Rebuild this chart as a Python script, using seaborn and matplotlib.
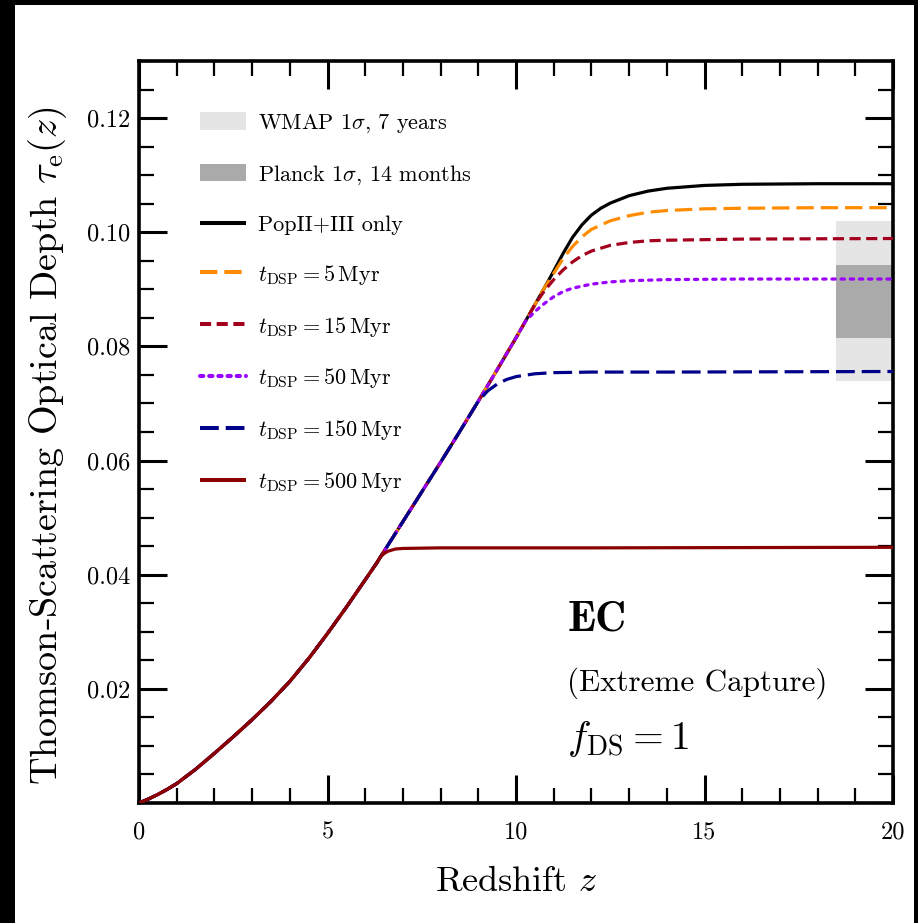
import numpy as np
import pandas as pd
import seaborn as sns
import matplotlib
matplotlib.use("Agg")
import matplotlib.pyplot as plt
from matplotlib.patches import Patch, Rectangle
from matplotlib.lines import Line2D

# ---------------- data ----------------
# shared low-z part of every curve
z_common = [0.0, 0.25, 0.5, 0.75, 1.0, 1.5, 2.0, 2.5, 3.0, 3.5, 4.0, 4.5, 5.0, 5.5, 6.0, 6.3]
tau_common = [0.0, 0.0007, 0.0015, 0.0024, 0.0034, 0.0059, 0.0087, 0.0116, 0.0146,
              0.0178, 0.0213, 0.0253, 0.0297, 0.0343, 0.0391, 0.0420]
# shared part 6.5 - 9 (all but 500 Myr)
z_mid1 = [6.5, 7.0, 7.5, 8.0, 8.5, 9.0]
tau_mid1 = [0.0441, 0.0493, 0.0545, 0.0597, 0.0650, 0.0704]
# shared part 9.5 - 10.25 (PopII+III, 5, 15, 50 Myr)
z_mid2 = [9.5, 10.0, 10.25]
tau_mid2 = [0.0759, 0.0815, 0.0844]
# shared part 10.5 (PopII+III, 5, 15 Myr)
z_mid3 = [10.5]
tau_mid3 = [0.0873]
# shared part 10.75 (PopII+III, 5 Myr)
z_mid4 = [10.75]
tau_mid4 = [0.0902]

z_pop_tail = [11.0, 11.25, 11.5, 11.75, 12.0, 12.25, 12.5, 13.0, 13.5, 14.0, 15.0, 16.0, 18.0, 20.0]
tau_pop_tail = [0.0932, 0.0963, 0.0991, 0.1013, 0.1030, 0.1042, 0.1051, 0.1064, 0.1072,
                0.1077, 0.1082, 0.1084, 0.1085, 0.1085]

z_5_tail = [11.0, 11.25, 11.5, 11.75, 12.0, 12.5, 13.0, 13.5, 14.0, 15.0, 16.0, 18.0, 20.0]
tau_5_tail = [0.0928, 0.0954, 0.0975, 0.0992, 0.1005, 0.1020, 0.1029, 0.1035, 0.1038,
              0.1041, 0.1042, 0.1043, 0.1043]

z_15_tail = [10.75, 11.0, 11.25, 11.5, 11.75, 12.0, 12.5, 13.0, 13.5, 14.0, 16.0, 20.0]
tau_15_tail = [0.0897, 0.0917, 0.0934, 0.0948, 0.0959, 0.0967, 0.0977, 0.0982, 0.0985,
               0.0986, 0.0988, 0.0989]

z_50_tail = [10.5, 10.75, 11.0, 11.25, 11.5, 12.0, 12.5, 13.0, 14.0, 16.0, 20.0]
tau_50_tail = [0.0861, 0.0875, 0.0887, 0.0896, 0.0902, 0.0909, 0.0913, 0.0915, 0.0917,
               0.0918, 0.0918]

z_150_tail = [9.25, 9.5, 9.75, 10.0, 10.5, 11.0, 12.0, 14.0, 20.0]
tau_150_tail = [0.0722, 0.0734, 0.0742, 0.0747, 0.0752, 0.0754, 0.0755, 0.0755, 0.0756]

z_500_tail = [6.4, 6.5, 6.6, 6.8, 7.0, 8.0, 12.0, 20.0]
tau_500_tail = [0.0431, 0.0437, 0.0441, 0.0445, 0.0446, 0.0447, 0.0447, 0.0448]

# observational bands
wmap_z = [18.5, 20.0]
wmap_tau = [0.074, 0.102]
planck_z = [18.5, 20.0]
planck_tau = [0.0814, 0.0943]

labels = ["PopII+III only",
          r"$t_{\rm DSP} = 5\,{\rm Myr}$",
          r"$t_{\rm DSP} = 15\,{\rm Myr}$",
          r"$t_{\rm DSP} = 50\,{\rm Myr}$",
          r"$t_{\rm DSP} = 150\,{\rm Myr}$",
          r"$t_{\rm DSP} = 500\,{\rm Myr}$"]
colors = ["#000000", "#ff8c00", "#a3001e", "#9b00ff", "#00008b", "#8b0000"]

x_ticks = [0, 5, 10, 15, 20]
x_tick_labels = ["0", "5", "10", "15", "20"]
y_ticks = [0.02, 0.04, 0.06, 0.08, 0.10, 0.12]
y_tick_labels = ["0.02", "0.04", "0.06", "0.08", "0.10", "0.12"]

# ---------------- assemble series ----------------
series = {
    labels[0]: (z_common + z_mid1 + z_mid2 + z_mid3 + z_mid4 + z_pop_tail,
                tau_common + tau_mid1 + tau_mid2 + tau_mid3 + tau_mid4 + tau_pop_tail),
    labels[1]: (z_common + z_mid1 + z_mid2 + z_mid3 + z_mid4 + z_5_tail,
                tau_common + tau_mid1 + tau_mid2 + tau_mid3 + tau_mid4 + tau_5_tail),
    labels[2]: (z_common + z_mid1 + z_mid2 + z_mid3 + z_15_tail,
                tau_common + tau_mid1 + tau_mid2 + tau_mid3 + tau_15_tail),
    labels[3]: (z_common + z_mid1 + z_mid2 + z_50_tail,
                tau_common + tau_mid1 + tau_mid2 + tau_50_tail),
    labels[4]: (z_common + z_mid1 + z_150_tail,
                tau_common + tau_mid1 + tau_150_tail),
    labels[5]: (z_common + z_500_tail,
                tau_common + tau_500_tail),
}

# ---------------- style ----------------
sns.set_theme(style="ticks")
plt.rcParams.update({
    "font.family": "serif",
    "font.serif": ["cmr10"],
    "mathtext.fontset": "cm",
    "axes.formatter.use_mathtext": True,
    "axes.unicode_minus": False,
    "lines.scale_dashes": False,
    "text.color": "black",
    "axes.labelcolor": "black",
    "xtick.color": "black",
    "ytick.color": "black",
    "axes.edgecolor": "black",
})

fig = plt.figure(figsize=(9.18, 9.23), dpi=100)
fig.patch.set_facecolor("black")
fig.patches.append(Rectangle((15 / 918, 0), (914 - 15) / 918, (923 - 5) / 923,
                             transform=fig.transFigure, facecolor="white",
                             edgecolor="none", zorder=-10))
ax = fig.add_axes([139 / 918, 1 - 803 / 923, (893 - 139) / 918, (803 - 61) / 923])
ax.set_facecolor("white")

# bands
ax.fill_between(wmap_z, [wmap_tau[0]] * 2, [wmap_tau[1]] * 2, color="#e5e5e5",
                linewidth=0, zorder=1)
ax.fill_between(planck_z, [planck_tau[0]] * 2, [planck_tau[1]] * 2, color="#aaaaaa",
                linewidth=0, zorder=1.1)

dash_styles = [None, (12.5, 5), (8, 4), (2.4, 4.2), (13.5, 5), None]
caps = ["butt", "butt", "butt", "round", "butt", "butt"]
lw = 2.3
for lab, col, dsh, cap in zip(labels, colors, dash_styles, caps):
    zz, tt = series[lab]
    df = pd.DataFrame({"z": zz, "tau": tt})
    sns.lineplot(data=df, x="z", y="tau", ax=ax, color=col, linewidth=lw,
                 estimator=None, sort=False, legend=False, zorder=3)
    line = ax.lines[-1]
    if dsh is not None:
        line.set_dashes(dsh)
    line.set_dash_capstyle(cap)
    line.set_solid_capstyle("butt")

ax.set_xlim(0, 20)
ax.set_ylim(0, 0.13)
ax.set_xticks(x_ticks)
ax.set_xticklabels(x_tick_labels)
ax.set_yticks(y_ticks)
ax.set_yticklabels(y_tick_labels)
ax.set_xticks(np.arange(0, 20.01, 1), minor=True)
ax.set_yticks(np.arange(0, 0.1301, 0.005), minor=True)
ax.tick_params(which="both", direction="in", top=True, right=True, colors="black")
ax.tick_params(which="major", length=20, width=2.2, labelsize=17.5)
ax.tick_params(which="minor", length=10.5, width=1.6)
ax.tick_params(axis="x", which="major", pad=13)
ax.tick_params(axis="y", which="major", pad=6)
for sp in ax.spines.values():
    sp.set_linewidth(2.6)
    sp.set_color("black")
    sp.set_visible(True)

ax.set_xlabel(r"Redshift $z$", fontsize=26, labelpad=17)
ax.set_ylabel(r"Thomson-Scattering Optical Depth $\tau_{\rm e}(z)$", fontsize=27.5)
ax.yaxis.set_label_coords(-0.093, 0.482)

ax.text(0.568, 0.247, "EC", transform=ax.transAxes, fontsize=31,
        family="cmb10", va="center", ha="left", color="black")
ax.text(0.568, 0.162, "(Extreme Capture)", transform=ax.transAxes, fontsize=22.4,
        va="center", ha="left", color="black")
ax.text(0.568, 0.086, r"$f_{\rm DS} = 1$", transform=ax.transAxes, fontsize=28.5,
        va="center", ha="left", color="black")

handles = [Patch(facecolor="#e5e5e5", edgecolor="none"),
           Patch(facecolor="#aaaaaa", edgecolor="none")]
for col, dsh, cap in zip(colors, dash_styles, caps):
    h = Line2D([0], [0], color=col, linewidth=lw + 0.6, dash_capstyle=cap,
               solid_capstyle="butt")
    if dsh is not None:
        h.set_dashes(dsh)
    handles.append(h)
leg_labels = [r"WMAP 1$\sigma$, 7 years", r"Planck 1$\sigma$, 14 months"] + labels
leg = ax.legend(handles, leg_labels, loc="upper left", bbox_to_anchor=(0.081, 0.931),
                frameon=False, fontsize=16, handlelength=2.05, handleheight=0.85,
                handletextpad=0.55, labelspacing=1.25, borderpad=0, borderaxespad=0)
for t in leg.get_texts():
    t.set_color("black")

fig.savefig("out.png", dpi=100, facecolor=fig.get_facecolor())
